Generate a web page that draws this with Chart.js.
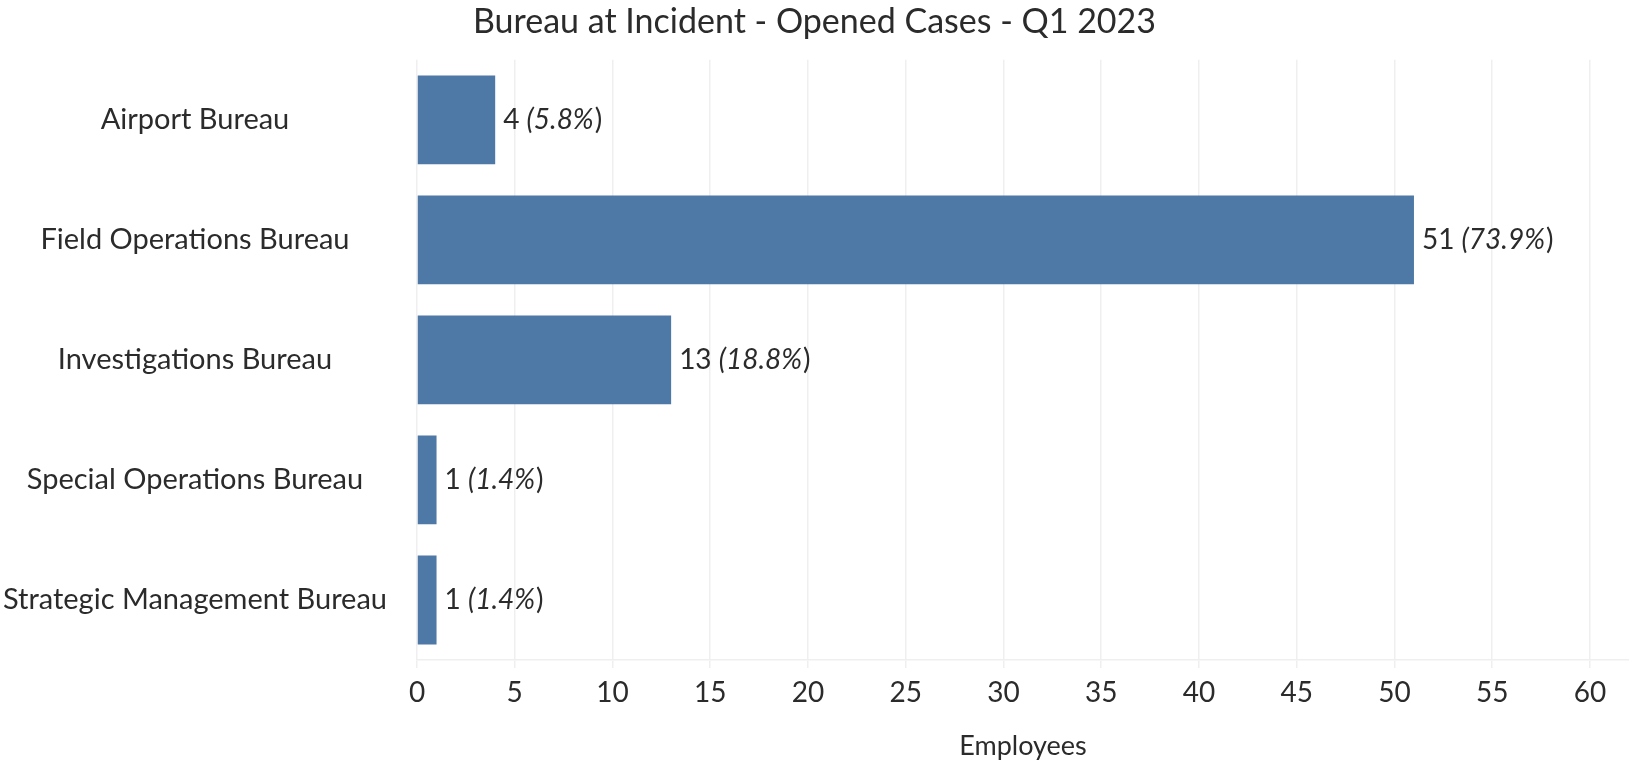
<!DOCTYPE html>
<html>
<head>
<meta charset="utf-8">
<title>Bureau at Incident - Opened Cases - Q1 2023</title>
<script src="https://cdn.jsdelivr.net/npm/chart.js@4.4.0/dist/chart.umd.min.js"></script>
<style>
  body { margin: 0; background: #fff; }
  #wrap { width: 1629px; height: 762px; }
</style>
</head>
<body>
<div id="wrap"><canvas id="bureauChart" width="1629" height="762"></canvas></div>
<script>
// Chart data
const bureau_labels = ['Airport Bureau', 'Field Operations Bureau', 'Investigations Bureau', 'Special Operations Bureau', 'Strategic Management Bureau']
const bureau_counts = [4, 51, 13, 1, 1]
const bureau_percents = ['5.8', '73.9', '18.8', '1.4', '1.4']
const x_max = 62
const x_step = 5

const bar_color = '#4e79a7'
const text_color = '#2b2b2b'
const grid_color = '#efefef'
const font_family = 'Lato, "Open Sans", sans-serif'

Chart.defaults.font.family = font_family

// draws "51 (73.9%)" to the right of each bar
const valueLabels = {
    id: 'valueLabels',
    afterDatasetsDraw(chart) {
        const ctx = chart.ctx
        const meta = chart.getDatasetMeta(0)
        ctx.save()
        ctx.textBaseline = 'middle'
        ctx.textAlign = 'left'
        ctx.fillStyle = text_color
        meta.data.forEach((bar, i) => {
            let x = bar.x + 8
            const count = bureau_counts[i] + ' '
            const pct = '(' + bureau_percents[i] + '%'
            ctx.font = '28px ' + font_family
            ctx.fillText(count, x, bar.y)
            x += ctx.measureText(count).width
            ctx.font = 'italic 28px ' + font_family
            ctx.fillText(pct, x, bar.y)
            x += ctx.measureText(pct).width
            ctx.font = '28px ' + font_family
            ctx.fillText(')', x + 1, bar.y)
        })
        ctx.restore()
    }
}

var bureau_chart = new Chart('bureauChart', {
    type: 'bar',
    data: {
        labels: bureau_labels,
        datasets: [{
            data: bureau_counts,
            backgroundColor: bar_color,
            borderWidth: 0,
            categoryPercentage: 0.74,
            barPercentage: 1
        }]
    },
    options: {
        indexAxis: 'y',
        responsive: false,
        animation: false,
        layout: { padding: 0 },
        plugins: {
            legend: { display: false },
            tooltip: { enabled: false },
            title: {
                display: true,
                text: 'Bureau at Incident - Opened Cases - Q1 2023',
                color: text_color,
                font: { size: 34, weight: 'normal' },
                padding: { top: 2, bottom: 17 }
            }
        },
        scales: {
            x: {
                min: 0,
                max: x_max,
                ticks: { stepSize: x_step, includeBounds: false, color: text_color, font: { size: 28 }, padding: 8 },
                grid: { color: grid_color, lineWidth: 1.5, tickLength: 8 },
                border: { color: grid_color, width: 1.5 },
                title: {
                    display: true,
                    text: 'Employees',
                    color: text_color,
                    font: { size: 27 },
                    padding: { top: 12, bottom: 0 }
                }
            },
            y: {
                grid: { display: false, drawTicks: false },
                border: { display: false },
                ticks: { crossAlign: 'center', padding: 30, color: text_color, font: { size: 29 } },
                afterFit(scale) { scale.width = 417 }
            }
        }
    },
    plugins: [valueLabels]
});
</script>
</body>
</html>
